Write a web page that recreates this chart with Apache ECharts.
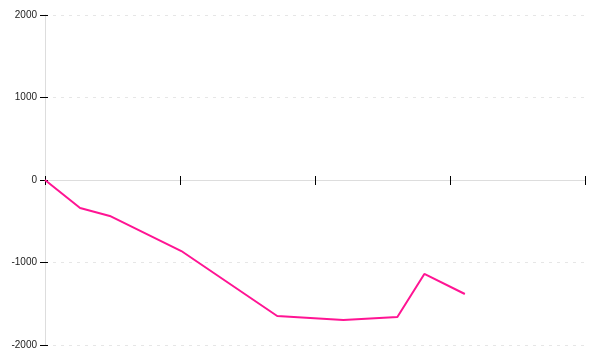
<!DOCTYPE html>
<html>
<head>
<meta charset="utf-8">
<script src="https://cdn.jsdelivr.net/npm/echarts@6/dist/echarts.min.js"></script>
<style>html,body{margin:0;padding:0;background:#fff}#c{width:600px;height:360px}</style>
</head>
<body>
<div id="c"></div>
<script>
var xValues = [0, 26, 48, 101, 172, 221, 261, 281, 311];
var yValues = [0, -339, -436, -861, -1648, -1697, -1661, -1139, -1382];
var yTicks = [-2000, -1000, 0, 1000, 2000];

var chart = echarts.init(document.getElementById('c'));
var tickStyle = {color: '#000', width: 1};
var yBase = {
  type: 'value', min: yTicks[0], max: yTicks[yTicks.length - 1], interval: 1000,
  position: 'left'
};
var xBase = {
  type: 'value', min: 0, max: 400, interval: 100, position: 'bottom'
};
chart.setOption({
  animation: false,
  grid: {left: 45, right: 15, top: 15, bottom: 15, containLabel: false},
  xAxis: [
    Object.assign({}, xBase, {
      axisLine: {onZero: true, onZeroAxisIndex: 0, lineStyle: {color: '#ddd', width: 1}},
      axisTick: {show: true, inside: false, length: 5, lineStyle: tickStyle},
      axisLabel: {show: false},
      splitLine: {show: false}
    }),
    Object.assign({}, xBase, {
      axisLine: {onZero: true, onZeroAxisIndex: 0, show: false},
      axisTick: {show: true, inside: true, length: 4, lineStyle: tickStyle},
      axisLabel: {show: false},
      splitLine: {show: false}
    })
  ],
  yAxis: [
    Object.assign({}, yBase, {
      axisLine: {show: true, onZero: false, lineStyle: {color: '#ddd', width: 1}},
      axisTick: {show: true, inside: false, length: 5, lineStyle: tickStyle},
      axisLabel: {show: true, color: '#222', fontFamily: 'Liberation Sans', fontSize: 10, margin: 8,
        formatter: function (v) { return v === 0 ? '0' : String(v); }},
      splitLine: {show: true, lineStyle: {color: '#e6e6e6', type: [3, 5], width: 1}}
    }),
    Object.assign({}, yBase, {
      axisLine: {show: false, onZero: false},
      axisTick: {show: true, inside: true, length: 3, lineStyle: tickStyle},
      axisLabel: {show: false},
      splitLine: {show: false}
    })
  ],
  series: [{
    type: 'line',
    xAxisIndex: 0, yAxisIndex: 0,
    data: xValues.map(function (x, i) { return [x, yValues[i]]; }),
    showSymbol: false,
    symbol: 'none',
    lineStyle: {color: '#ff1493', width: 2},
    itemStyle: {color: '#ff1493'}
  }]
});
</script>
</body>
</html>
